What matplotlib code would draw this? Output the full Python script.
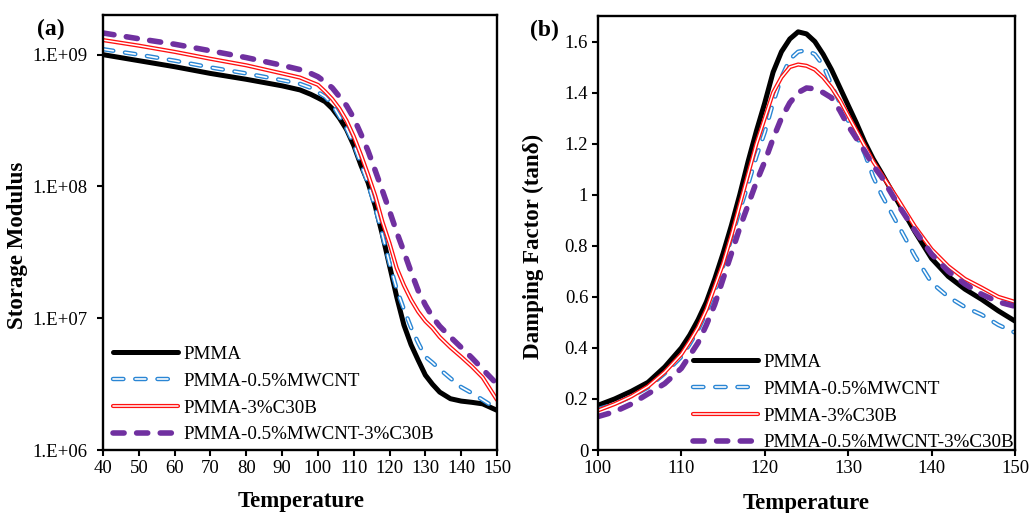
import numpy as np
import matplotlib
matplotlib.use('Agg')
from matplotlib import pyplot as plt
from matplotlib.legend_handler import HandlerTuple
from matplotlib.ticker import FuncFormatter, NullLocator

plt.rcParams['font.family'] = ['Liberation Serif', 'DejaVu Serif']
plt.rcParams['lines.scale_dashes'] = False

series_names = ['PMMA', 'PMMA-0.5%MWCNT', 'PMMA-3%C30B', 'PMMA-0.5%MWCNT-3%C30B']

# (a) storage modulus vs temperature
temp_a = [40, 50, 60, 70, 80, 90, 95, 98, 100, 102, 104, 106, 108, 110, 112, 114,
          116, 118, 120, 122, 124, 126, 128, 130, 132, 134, 137, 140, 143, 146, 150]
mod_pmma = [1.0e9, 9.0e8, 8.1e8, 7.2e8, 6.5e8, 5.8e8, 5.4e8, 5.0e8, 4.7e8, 4.4e8,
            3.9e8, 3.3e8, 2.7e8, 2.05e8, 1.45e8, 1.07e8, 7.1e7, 4.3e7, 2.5e7, 1.45e7,
            8.9e6, 6.3e6, 4.8e6, 3.7e6, 3.15e6, 2.75e6, 2.45e6, 2.35e6, 2.3e6, 2.24e6,
            2.0e6]
mod_mwcnt = [1.10e9, 1.0e9, 9.0e8, 8.0e8, 7.2e8, 6.4e8, 6.0e8, 5.6e8, 5.2e8, 4.8e8,
             4.2e8, 3.4e8, 2.75e8, 2.1e8, 1.48e8, 1.05e8, 6.9e7, 4.3e7, 2.6e7, 1.66e7,
             1.17e7, 8.5e6, 6.5e6, 5.1e6, 4.6e6, 4.1e6, 3.5e6, 3.0e6, 2.7e6, 2.4e6,
             2.05e6]
mod_c30b = [1.29e9, 1.17e9, 1.05e9, 9.3e8, 8.3e8, 7.2e8, 6.7e8, 6.2e8, 5.9e8, 5.25e8,
            4.6e8, 3.9e8, 3.15e8, 2.4e8, 1.74e8, 1.23e8, 8.5e7, 5.4e7, 3.7e7, 2.4e7,
            1.78e7, 1.38e7, 1.12e7, 9.5e6, 8.4e6, 7.2e6, 6.0e6, 5.1e6, 4.3e6, 3.55e6,
            2.4e6]
mod_hybrid = [1.46e9, 1.32e9, 1.2e9, 1.07e9, 9.5e8, 8.3e8, 7.7e8, 7.2e8, 6.8e8, 6.2e8,
              5.6e8, 4.8e8, 4.1e8, 3.3e8, 2.5e8, 1.86e8, 1.32e8, 9.3e7, 6.5e7, 4.5e7,
              3.2e7, 2.25e7, 1.62e7, 1.26e7, 1.02e7, 8.7e6, 7.2e6, 6.0e6, 5.0e6, 4.1e6,
              3.16e6]

# (b) tan delta vs temperature
temp_b = [100, 102, 104, 106, 108, 110, 111, 112, 113, 114, 115, 116, 117, 118, 119,
          120, 121, 122, 123, 124, 125, 126, 127, 128, 129, 130, 131, 132, 133, 134,
          136, 138, 140, 142, 144, 146, 148, 150]
tan_pmma = [0.175, 0.20, 0.23, 0.265, 0.325, 0.40, 0.45, 0.51, 0.58, 0.67, 0.77, 0.88,
            1.00, 1.13, 1.25, 1.36, 1.48, 1.56, 1.61, 1.638, 1.63, 1.60, 1.55, 1.49,
            1.42, 1.35, 1.28, 1.205, 1.14, 1.085, 0.97, 0.855, 0.75, 0.68, 0.63, 0.59,
            0.545, 0.505]
tan_mwcnt = [0.16, 0.18, 0.21, 0.245, 0.30, 0.365, 0.415, 0.47, 0.54, 0.62, 0.72, 0.83,
             0.94, 1.04, 1.15, 1.245, 1.36, 1.46, 1.53, 1.56, 1.566, 1.55, 1.507, 1.43,
             1.36, 1.29, 1.23, 1.16, 1.07, 1.00, 0.88, 0.76, 0.655, 0.60, 0.56, 0.53,
             0.49, 0.46]
tan_c30b = [0.155, 0.18, 0.21, 0.249, 0.305, 0.375, 0.425, 0.48, 0.55, 0.64, 0.73, 0.84,
            0.96, 1.08, 1.20, 1.30, 1.40, 1.46, 1.50, 1.51, 1.505, 1.49, 1.46, 1.42,
            1.37, 1.31, 1.25, 1.19, 1.13, 1.08, 0.98, 0.875, 0.786, 0.72, 0.67, 0.636,
            0.60, 0.58]
tan_hybrid = [0.131, 0.15, 0.18, 0.22, 0.26, 0.32, 0.37, 0.42, 0.49, 0.57, 0.67, 0.77,
              0.87, 0.96, 1.05, 1.13, 1.22, 1.30, 1.36, 1.40, 1.418, 1.415, 1.40, 1.38,
              1.33, 1.27, 1.22, 1.17, 1.114, 1.07, 0.96, 0.86, 0.767, 0.70, 0.65, 0.61,
              0.58, 0.563]

# line looks: colour, outer width, inner white width (hollow look), dash pattern
styles = [
    dict(color='black', lw=3.6, inner=None, dashes=None),
    dict(color='#2a86d4', lw=3.2, inner=1.2, dashes=(7.5, 8.5)),
    dict(color='#ff1010', lw=3.0, inner=1.1, dashes=None),
    dict(color='#7030a0', lw=4.0, inner=None, dashes=(8.0, 9.0)),
]


def draw_series(ax, x, y, st):
    kw = dict(solid_capstyle='round', dash_capstyle='round')
    outer, = ax.plot(x, y, color=st['color'], lw=st['lw'], **kw)
    if st['dashes'] is not None:
        outer.set_dashes(st['dashes'])
    handles = [outer]
    if st['inner'] is not None:
        inner, = ax.plot(x, y, color='white', lw=st['inner'], **kw)
        if st['dashes'] is not None:
            inner.set_dashes(st['dashes'])
        handles.append(inner)
    return tuple(handles)


def style_axes(ax):
    for sp in ax.spines.values():
        sp.set_linewidth(1.7)
        sp.set_color('black')
    ax.tick_params(axis='both', which='major', direction='out', length=4, width=1.5,
                   labelsize=13.5, top=False, right=False)


def add_legend(ax, handles, anchor):
    ax.legend(handles, series_names, handler_map={tuple: HandlerTuple(ndivide=1)},
              loc='upper left', bbox_to_anchor=anchor, frameon=False,
              fontsize=13.7, handlelength=3.4, handletextpad=0.3, labelspacing=0.5,
              borderpad=0, borderaxespad=0)


fig = plt.figure(figsize=(10.29, 5.13), dpi=100)
ax_a = fig.add_axes([0.1001, 0.1228, 0.3829, 0.848])
ax_b = fig.add_axes([0.5811, 0.1228, 0.4053, 0.846])

# panel (a)
hs = []
for y, st in zip([mod_pmma, mod_mwcnt, mod_c30b, mod_hybrid], styles):
    hs.append(draw_series(ax_a, temp_a, y, st))
ax_a.set_yscale('log')
ax_a.set_xlim(40, 150)
ax_a.set_ylim(1e6, 2e9)
ax_a.set_xticks(range(40, 151, 10))
ax_a.set_yticks([1e6, 1e7, 1e8, 1e9])
ax_a.set_yticklabels(['1.E+06', '1.E+07', '1.E+08', '1.E+09'])
ax_a.yaxis.set_minor_locator(NullLocator())
style_axes(ax_a)
ax_a.tick_params(axis='y', pad=7)
ax_a.tick_params(axis='x', pad=3)
ax_a.set_xlabel('Temperature', fontsize=16.5, fontweight='bold')
ax_a.set_ylabel('Storage Modulus', fontsize=16.5, fontweight='bold')
ax_a.xaxis.set_label_coords(0.504, -0.095)
ax_a.yaxis.set_label_coords(-0.19, 0.47)
add_legend(ax_a, hs, (0.025, 0.24))
fig.text(0.036, 0.942, '(a)', fontsize=17, fontweight='bold', va='center')

# panel (b)
hs = []
for y, st in zip([tan_pmma, tan_mwcnt, tan_c30b, tan_hybrid], styles):
    hs.append(draw_series(ax_b, temp_b, y, st))
ax_b.set_xlim(100, 150)
ax_b.set_ylim(0, 1.7)
ax_b.set_xticks(range(100, 151, 10))
ax_b.set_yticks(np.arange(0, 1.61, 0.2))
ax_b.yaxis.set_major_formatter(FuncFormatter(lambda v, p: '%g' % round(v, 1)))
style_axes(ax_b)
ax_b.tick_params(axis='y', pad=3)
ax_b.tick_params(axis='x', pad=3)
ax_b.set_xlabel('Temperature', fontsize=16.5, fontweight='bold')
ax_b.set_ylabel('Damping Factor (tanδ)', fontsize=16.5, fontweight='bold')
ax_b.xaxis.set_label_coords(0.5, -0.1)
ax_b.yaxis.set_label_coords(-0.13, 0.47)
add_legend(ax_b, hs, (0.228, 0.222))
fig.text(0.515, 0.94, '(b)', fontsize=17, fontweight='bold', va='center')

fig.savefig('out.png', dpi=100)
